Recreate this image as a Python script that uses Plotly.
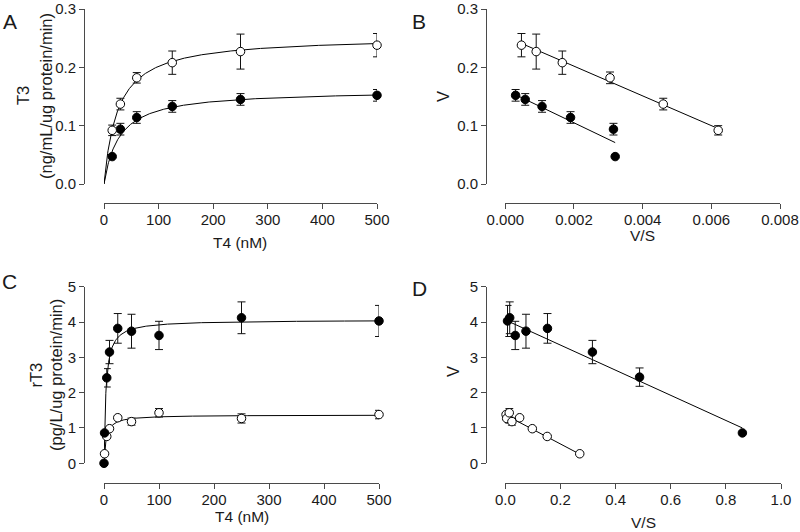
import numpy as np
import plotly.graph_objects as go

W, H = 800, 532

# ---------------- Panel A: T4 (nM) -> T3 ----------------
a_s = [15, 30, 60, 125, 250, 500]
a_open_v = [0.092, 0.137, 0.182, 0.208, 0.227, 0.238]
a_open_err = [0.009, 0.010, 0.009, 0.020, 0.030, 0.020]
a_fill_v = [0.047, 0.094, 0.114, 0.133, 0.145, 0.152]
a_fill_err = [0.0, 0.010, 0.010, 0.010, 0.010, 0.010]
a_open_fit = (0.253, 25.4)   # Vmax, Km of the drawn fit
a_fill_fit = (0.161, 28.0)

# ---------------- Panel B: V/S -> V ----------------
b_open_x = [0.00047, 0.00090, 0.00166, 0.00305, 0.00460, 0.00620]
b_open_v = [0.238, 0.227, 0.208, 0.182, 0.137, 0.092]
b_open_err = [0.020, 0.030, 0.020, 0.010, 0.010, 0.008]
b_fill_x = [0.00030, 0.00058, 0.00107, 0.00190, 0.00315, 0.00320]
b_fill_v = [0.152, 0.145, 0.133, 0.114, 0.094, 0.047]
b_fill_err = [0.010, 0.010, 0.010, 0.010, 0.010, 0.0]
b_open_line_x = [0.00047, 0.00620]
b_open_line_y = [0.241, 0.095]
b_fill_line_x = [0.00030, 0.00320]
b_fill_line_y = [0.153, 0.071]

# ---------------- Panel C: T4 (nM) -> rT3 ----------------
c_s_fill = [0, 1, 5, 10, 25, 50, 100, 250, 500]
c_fill_v = [0.0, 0.86, 2.42, 3.15, 3.82, 3.74, 3.62, 4.12, 4.03]
c_fill_err = [0.0, 0.0, 0.26, 0.33, 0.42, 0.48, 0.40, 0.45, 0.44]
c_s_open = [1, 5, 10, 25, 50, 100, 250, 500]
c_open_v = [0.27, 0.76, 0.98, 1.29, 1.18, 1.43, 1.27, 1.38]
c_open_err = [0.0, 0.0, 0.0, 0.0, 0.10, 0.12, 0.13, 0.12]
c_fill_fit = (4.06, 3.5)
c_open_fit = (1.37, 4.1)

# ---------------- Panel D: V/S -> V ----------------
d_fill_x = [0.008, 0.016, 0.036, 0.075, 0.153, 0.316, 0.487, 0.860]
d_fill_v = [4.03, 4.12, 3.62, 3.74, 3.82, 3.15, 2.44, 0.86]
d_fill_err = [0.44, 0.45, 0.40, 0.48, 0.42, 0.33, 0.26, 0.0]
d_open_x = [0.0028, 0.0050, 0.0143, 0.0240, 0.052, 0.098, 0.152, 0.270]
d_open_v = [1.38, 1.27, 1.43, 1.18, 1.29, 0.98, 0.76, 0.27]
d_open_err = [0.12, 0.13, 0.12, 0.10, 0.0, 0.0, 0.0, 0.0]
d_fill_line_x = [0.008, 0.860]
d_fill_line_y = [4.03, 1.00]
d_open_line_x = [0.0025, 0.265]
d_open_line_y = [1.36, 0.28]

FONT = "Liberation Sans, Arial, sans-serif"
TXT = "#1a1a1a"
AX = "#4a4a4a"


def px(x):
    return x / W


def py(y):
    return 1 - y / H


fig = go.Figure()


def add_points(xs, ys, errs, filled, xa, ya):
    ex = [x for x, e in zip(xs, errs) if e > 0]
    ey = [y for y, e in zip(ys, errs) if e > 0]
    ee = [e for e in errs if e > 0]
    if ex:
        fig.add_trace(go.Scatter(
            x=ex, y=ey, mode="markers", xaxis=xa, yaxis=ya,
            marker=dict(size=1, color="rgba(0,0,0,0)"),
            error_y=dict(type="data", array=ee, visible=True, color="#111",
                         thickness=1, width=4),
            cliponaxis=False, showlegend=False, hoverinfo="skip"))
    fig.add_trace(go.Scatter(
        x=xs, y=ys, mode="markers", xaxis=xa, yaxis=ya,
        marker=dict(size=8.5, color="#000" if filled else "#fff",
                    line=dict(color="#000", width=1)),
        cliponaxis=False, showlegend=False))


def add_line(xs, ys, xa, ya):
    fig.add_trace(go.Scatter(x=xs, y=ys, mode="lines", xaxis=xa, yaxis=ya,
                             line=dict(color="#000", width=1),
                             cliponaxis=False, showlegend=False, hoverinfo="skip"))


def mm_curve(params, smax, xa, ya):
    vmax, km = params
    s = np.linspace(0, smax, 600)
    add_line(s, vmax * s / (km + s), xa, ya)


# Panel A
mm_curve(a_open_fit, 500, "x", "y")
mm_curve(a_fill_fit, 500, "x", "y")
add_points(a_s, a_fill_v, a_fill_err, True, "x", "y")
add_points(a_s, a_open_v, a_open_err, False, "x", "y")

# Panel B
add_line(b_open_line_x, b_open_line_y, "x2", "y2")
add_line(b_fill_line_x, b_fill_line_y, "x2", "y2")
add_points(b_fill_x, b_fill_v, b_fill_err, True, "x2", "y2")
add_points(b_open_x, b_open_v, b_open_err, False, "x2", "y2")

# Panel C
mm_curve(c_fill_fit, 500, "x3", "y3")
mm_curve(c_open_fit, 500, "x3", "y3")
add_points(c_s_open, c_open_v, c_open_err, False, "x3", "y3")
add_points(c_s_fill, c_fill_v, c_fill_err, True, "x3", "y3")

# Panel D
add_line(d_fill_line_x, d_fill_line_y, "x4", "y4")
add_line(d_open_line_x, d_open_line_y, "x4", "y4")
add_points(d_open_x, d_open_v, d_open_err, False, "x4", "y4")
add_points(d_fill_x, d_fill_v, d_fill_err, True, "x4", "y4")


def axis(domain, rng, pos, dtick, fmt, standoff=0):
    return dict(domain=domain, range=rng, anchor="free", position=pos,
                automargin=False,
                showline=True, linecolor=AX, linewidth=1,
                ticks="outside", ticklen=5, tickwidth=1, tickcolor=AX,
                dtick=dtick, tick0=0, tickformat=fmt,
                ticklabelstandoff=standoff,
                showgrid=False, zeroline=False,
                tickfont=dict(family=FONT, size=15, color=TXT))


top_y = [py(184), py(9)]
bot_y = [py(463.3), py(286.7)]

fig.update_layout(
    template="none",
    width=W, height=H,
    margin=dict(l=0, r=0, t=0, b=0, autoexpand=False),
    paper_bgcolor="white", plot_bgcolor="white",
    font=dict(family=FONT, color=TXT),
    xaxis=axis([px(104), px(377)], [0, 500], py(203.3), 100, "d", -2),
    yaxis=axis(top_y, [0, 0.3], px(84), 0.1, ".1f"),
    xaxis2=axis([px(505.3), px(780)], [0, 0.008], py(203.3), 0.002, ".3f", -2),
    yaxis2=axis(top_y, [0, 0.3], px(486), 0.1, ".1f"),
    xaxis3=axis([px(104), px(379)], [0, 500], py(483.3), 100, "d", -2),
    yaxis3=axis(bot_y, [0, 5], px(84), 1, "d"),
    xaxis4=axis([px(505.3), px(781)], [0, 1.0], py(483.3), 0.2, ".1f", -2),
    yaxis4=axis(bot_y, [0, 5], px(486), 1, "d"),
)


def note(text, x, y, size, angle=0):
    fig.add_annotation(text=text, x=px(x), y=py(y), xref="paper", yref="paper",
                       showarrow=False, textangle=angle, xanchor="center",
                       yanchor="middle",
                       font=dict(family=FONT, size=size, color=TXT))


# Panel letters
note("A", 10, 22, 21)
note("B", 419, 21, 21)
note("C", 9, 281, 21)
note("D", 419.5, 288, 21)

# Axis titles
note("T3", 23, 96, 16.5, -90)
note("(ng/mL/ug protein/min)", 46, 96, 16.5, -90)
note("T4 (nM)", 240.5, 242, 15.5)
note("V", 443, 97, 16.5, -90)
note("V/S", 642, 236, 15.5)
note("rT3", 35.5, 375, 16.5, -90)
note("(pg/L/ug protein/min)", 56, 375, 16.5, -90)
note("T4 (nM)", 241.5, 516, 15.5)
note("V", 453, 372, 16.5, -90)
note("V/S", 643, 522, 15.5)

fig.write_html("out.html",
               config={"displayModeBar": False},
               post_script="document.body.style.margin='0';")
